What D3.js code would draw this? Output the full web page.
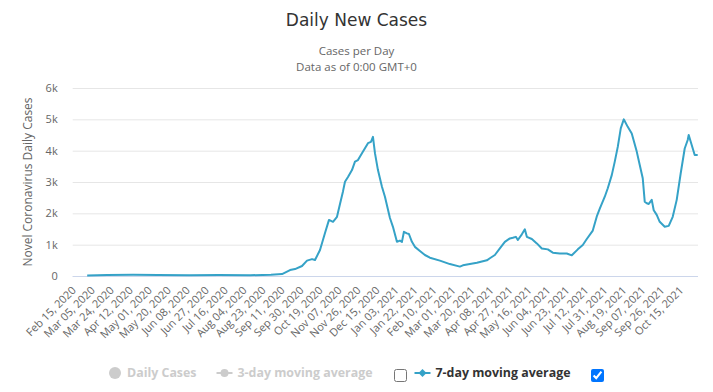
<!DOCTYPE html>
<html>
<head>
<meta charset="utf-8">
<script src="https://cdn.jsdelivr.net/npm/d3@7/dist/d3.min.js"></script>
<style>
body { margin: 0; background: #fff; }
#wrap { position: relative; width: 713px; height: 392px; }
#wrap input { position: absolute; margin: 0; width: 13px; height: 13px; }
</style>
</head>
<body>
<div id="wrap"><svg id="chart"></svg></div>
<script>
// 7-day moving average
const dates = [
  '2020-02-29','2020-03-20','2020-04-15','2020-05-10','2020-06-10','2020-07-10','2020-08-10','2020-08-31','2020-09-11',
  '2020-09-19','2020-09-24','2020-10-01','2020-10-06','2020-10-11','2020-10-14','2020-10-19','2020-10-24','2020-10-28',
  '2020-11-01','2020-11-05','2020-11-08','2020-11-11','2020-11-13','2020-11-16','2020-11-20','2020-11-23','2020-11-26',
  '2020-11-30','2020-12-03','2020-12-06','2020-12-09','2020-12-11','2020-12-13','2020-12-16','2020-12-20','2020-12-23',
  '2020-12-28','2020-12-31','2021-01-04','2021-01-07','2021-01-09','2021-01-11','2021-01-14','2021-01-16','2021-01-19',
  '2021-01-22','2021-01-27','2021-02-01','2021-02-06','2021-02-16','2021-02-26','2021-03-08','2021-03-11','2021-03-18',
  '2021-03-25','2021-03-31','2021-04-04','2021-04-07','2021-04-12','2021-04-17','2021-04-22','2021-04-27','2021-04-30',
  '2021-05-03','2021-05-05','2021-05-09','2021-05-12','2021-05-14','2021-05-19','2021-05-24','2021-05-29','2021-06-04',
  '2021-06-09','2021-06-16','2021-06-23','2021-06-28','2021-07-04','2021-07-09','2021-07-13','2021-07-19','2021-07-23',
  '2021-07-26','2021-07-31','2021-08-03','2021-08-07','2021-08-10','2021-08-13','2021-08-16','2021-08-19','2021-08-23',
  '2021-08-27','2021-09-01','2021-09-04','2021-09-07','2021-09-09','2021-09-11','2021-09-13','2021-09-16','2021-09-18',
  '2021-09-21','2021-09-24','2021-09-29','2021-10-03','2021-10-07','2021-10-11','2021-10-15','2021-10-19','2021-10-22',
  '2021-10-23','2021-10-26','2021-10-29','2021-11-01'
];
const avg7 = [
  15, 30, 40, 35, 25, 30, 25, 40, 60,
  190, 220, 320, 490, 540, 510, 830, 1370, 1790,
  1730, 1890, 2300, 2700, 3010, 3160, 3380, 3650, 3700,
  3920, 4080, 4240, 4280, 4440, 3920, 3380, 2850, 2530,
  1850, 1570, 1090, 1130, 1090, 1410, 1360, 1340, 1090,
  930, 800, 670, 585, 490, 380, 300, 340, 380,
  425, 470, 500, 565, 670, 880, 1090, 1200, 1220,
  1250, 1150, 1330, 1490, 1250, 1180, 1040, 880, 850,
  745, 720, 720, 660, 850, 990, 1180, 1450, 1900,
  2150, 2530, 2800, 3220, 3650, 4120, 4710, 5000, 4760,
  4550, 3970, 3540, 3120, 2370, 2320, 2300, 2430, 2100,
  1950, 1730, 1570, 1600, 1890, 2430, 3280, 4070, 4340,
  4500, 4180, 3860, 3860
];
const firstDay = '2020-02-15', lastDay = '2021-11-01';

const yTicks = [0, 1000, 2000, 3000, 4000, 5000, 6000];
const yTickLabels = ['0', '1k', '2k', '3k', '4k', '5k', '6k'];
const xTickLabels = [
  'Feb 15, 2020','Mar 05, 2020','Mar 24, 2020','Apr 12, 2020','May 01, 2020','May 20, 2020','Jun 08, 2020',
  'Jun 27, 2020','Jul 16, 2020','Aug 04, 2020','Aug 23, 2020','Sep 11, 2020','Sep 30, 2020','Oct 19, 2020',
  'Nov 07, 2020','Nov 26, 2020','Dec 15, 2020','Jan 03, 2021','Jan 22, 2021','Feb 10, 2021','Mar 01, 2021',
  'Mar 20, 2021','Apr 08, 2021','Apr 27, 2021','May 16, 2021','Jun 04, 2021','Jun 23, 2021','Jul 12, 2021',
  'Jul 31, 2021','Aug 19, 2021','Sep 07, 2021','Sep 26, 2021','Oct 15, 2021'
];
const legendNames = ['Daily Cases', '3-day moving average', '7-day moving average'];
const legendOn = [false, false, true];

const W = 713, H = 392;
const plot = { left: 72.7, right: 698, top: 88, bottom: 276 };
const lineColor = '#35a2c7';
const greyed = '#cccccc';

const svg = d3.select('#chart').attr('width', W).attr('height', H);

const parseIso = d3.utcParse('%Y-%m-%d');
const parseLbl = d3.utcParse('%b %d, %Y');
const series = dates.map((d, i) => ({ date: parseIso(d), v: avg7[i] }));

// une catégorie par jour, le point est au centre
const x = d3.scaleUtc()
  .domain([parseIso(firstDay), parseIso(lastDay)])
  .range([plot.left + 0.5, plot.right - 0.3]);
const y = d3.scaleLinear().domain([0, 6000]).range([plot.bottom, plot.top]);

// titres
svg.append('text').attr('x', W / 2).attr('y', 26).attr('text-anchor', 'middle')
  .style('font', '17px "DejaVu Sans", sans-serif').attr('fill', '#333')
  .text('Daily New Cases');
svg.append('text').attr('x', W / 2).attr('y', 55).attr('text-anchor', 'middle')
  .style('font', '11.5px "Open Sans", sans-serif').attr('fill', '#666')
  .text('Cases per Day');
svg.append('text').attr('x', W / 2).attr('y', 71).attr('text-anchor', 'middle')
  .style('font', '11.5px "Open Sans", sans-serif').attr('fill', '#666')
  .text('Data as of 0:00 GMT+0');

// axe y + grille
const gy = svg.append('g').attr('transform', `translate(${plot.left},0)`)
  .call(d3.axisLeft(y).tickValues(yTicks).tickSize(-(plot.right - plot.left)).tickPadding(15)
    .tickFormat((d, i) => yTickLabels[i]));
gy.select('.domain').remove();
gy.selectAll('.tick line').attr('stroke', '#e6e6e6');
gy.selectAll('.tick text').attr('fill', '#666').style('font', '11px "Open Sans", sans-serif');

svg.append('text')
  .attr('transform', `translate(32,${(plot.top + plot.bottom) / 2}) rotate(-90)`)
  .attr('text-anchor', 'middle')
  .style('font', '12px "Open Sans", sans-serif').attr('fill', '#666')
  .text('Novel Coronavirus Daily Cases');

// axe x
const gx = svg.append('g').attr('transform', `translate(0,${plot.bottom})`)
  .call(d3.axisBottom(x).tickValues(xTickLabels.map(parseLbl)).tickSize(0)
    .tickFormat((d, i) => xTickLabels[i]));
gx.select('.domain').attr('d', `M${plot.left},0.5H${plot.right}`).attr('stroke', '#ccd6eb');
gx.selectAll('.tick text')
  .attr('x', 0).attr('y', 0).attr('dy', null)
  .attr('text-anchor', 'end')
  .attr('transform', 'translate(3,15) rotate(-45)')
  .attr('fill', '#666')
  .style('font', '11px "Open Sans", sans-serif');

// courbe
const line = d3.line().x(d => x(d.date)).y(d => y(d.v));
svg.append('path').datum(series)
  .attr('d', line)
  .attr('fill', 'none')
  .attr('stroke', lineColor)
  .attr('stroke-width', 2)
  .attr('stroke-linejoin', 'round');

// légende
const legY = 373;
const leg = svg.append('g').style('font', 'bold 12.4px "Open Sans", sans-serif');
let cx = 0;
const boxes = [];
legendNames.forEach((name, i) => {
  const col = legendOn[i] ? lineColor : greyed;
  const g = leg.append('g').attr('transform', `translate(${cx},0)`);
  if (i === 0) {
    g.append('circle').attr('cx', 6).attr('cy', legY).attr('r', 6).attr('fill', col);
    cx += 12 + 6;
  } else {
    g.append('path').attr('d', `M0,${legY}H16`).attr('stroke', col).attr('stroke-width', 2);
    if (i === 1) g.append('circle').attr('cx', 8).attr('cy', legY).attr('r', 4).attr('fill', col);
    else g.append('path').attr('d', `M8,${legY - 4}L12,${legY}L8,${legY + 4}L4,${legY}Z`).attr('fill', col);
    cx += 16 + 5;
  }
  const t = leg.append('text').attr('x', cx).attr('y', legY + 4)
    .attr('fill', legendOn[i] ? '#333' : greyed).text(name);
  cx += t.node().getComputedTextLength();
  if (i > 0) {
    boxes.push({ x: cx + 21, on: legendOn[i] });
    cx += 21 + 13 + 8;
  } else {
    cx += 20;
  }
});
const shift = Math.round(W / 2 - cx / 2) + 4;
leg.attr('transform', `translate(${shift},0)`);

d3.select('#wrap').selectAll('input').data(boxes).join('input')
  .attr('type', 'checkbox')
  .property('checked', d => d.on)
  .style('left', d => (d.x + shift) + 'px')
  .style('top', (legY - 4) + 'px');
</script>
</body>
</html>
